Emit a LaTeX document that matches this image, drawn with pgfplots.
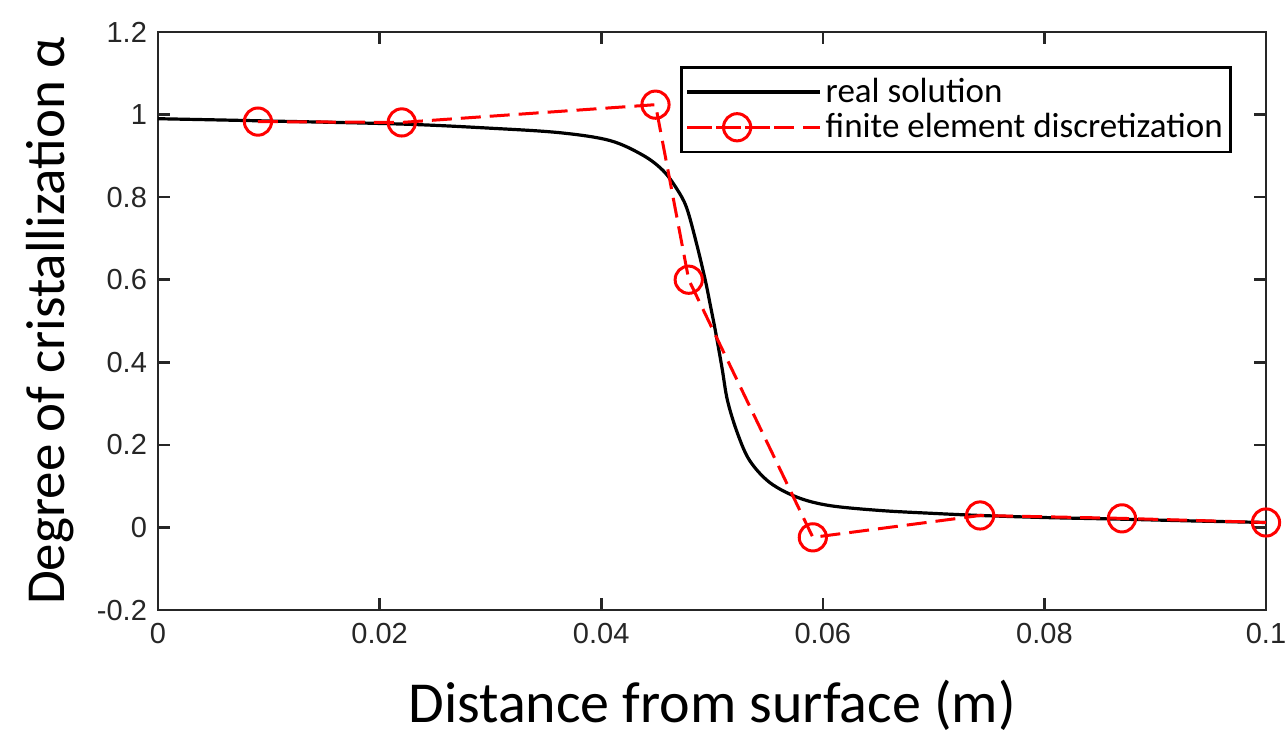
\documentclass[border=0pt]{standalone}
\usepackage{fontspec}
\setmainfont{Liberation Sans}
\newfontfamily\calibri{Carlito}
\usepackage{pgfplots}
\pgfplotsset{compat=1.18}
\begin{document}
\begin{tikzpicture}
\begin{axis}[
  at={(0,0)}, anchor=south west,
  width=554pt, height=289pt, scale only axis,
  xmin=0, xmax=0.1, ymin=-0.2, ymax=1.2,
  xtick={0,0.02,0.04,0.06,0.08,0.1},
  ytick={-0.2,0,0.2,0.4,0.6,0.8,1,1.2},
  scaled x ticks=false, scaled y ticks=false,
  xticklabel style={/pgf/number format/fixed,/pgf/number format/precision=2},
  yticklabel style={/pgf/number format/fixed,/pgf/number format/precision=1},
  /pgf/number format/assume math mode=true,
  tick label style={font=\fontsize{14.5}{16}\selectfont, text=black!85},
  tick align=inside, major tick length=6pt,
  every tick/.style={line width=1.3pt, black!85},
  axis line style={line width=1.3pt, black!85},
  xticklabel shift=3pt, yticklabel shift=2pt,
  xlabel={Distance from surface (m)},
  ylabel={Degree of cristallization α},
  xlabel style={font=\calibri\fontsize{29}{33}\selectfont, at={(axis description cs:0.5,-0.165)}, anchor=center},
  ylabel style={font=\calibri\fontsize{27.5}{31}\selectfont, at={(axis description cs:-0.0975,0.5)}, anchor=center},
  legend style={at={(axis description cs:1,1)}, anchor=north east, xshift=-17pt, yshift=-17pt,
    draw=black, line width=1.3pt, font=\calibri\fontsize{17.5}{20}\selectfont,
    inner xsep=2pt, inner ysep=3.5pt, row sep=0pt},
  legend cell align=left,
  legend image code/.code={\draw[mark repeat=2,mark phase=2,#1] plot coordinates {(0pt,0pt) (22.5pt,0pt) (45pt,0pt)};
    \path (-2.5pt,0pt) -- (64pt,0pt);},
]
\addplot[black, line width=1.6pt, smooth, tension=0.55] coordinates {
(0,0.99) (0.009,0.985) (0.022,0.977) (0.03,0.967) (0.0363,0.956) (0.0408,0.937)
(0.0438,0.901) (0.0456,0.864) (0.0468,0.821) (0.0477,0.775) (0.0486,0.688)
(0.0494,0.598) (0.0498,0.545) (0.0503,0.477) (0.0509,0.387) (0.0514,0.307)
(0.0523,0.228) (0.0534,0.162) (0.0552,0.109) (0.0577,0.073) (0.0606,0.053)
(0.0652,0.041) (0.07,0.034) (0.0742,0.029) (0.08,0.024) (0.087,0.02)
(0.093,0.016) (0.1,0.012)};
\addlegendentry{real solution}
\addplot[red, line width=1.5pt, dash pattern=on 10pt off 4.5pt, mark=o, mark size=6.8pt,
  mark options={solid, fill=none, line width=1.5pt}] coordinates {
(0.00902,0.983) (0.0220,0.981) (0.0449,1.024) (0.0479,0.600)
(0.0591,-0.024) (0.0742,0.029) (0.0870,0.022) (0.1,0.012)};
\addlegendentry{finite element discretization\hspace{6.5pt}}
\end{axis}
\pgfresetboundingbox
\path (-79pt,-63pt) rectangle (565pt,305pt);
\end{tikzpicture}
\end{document}
